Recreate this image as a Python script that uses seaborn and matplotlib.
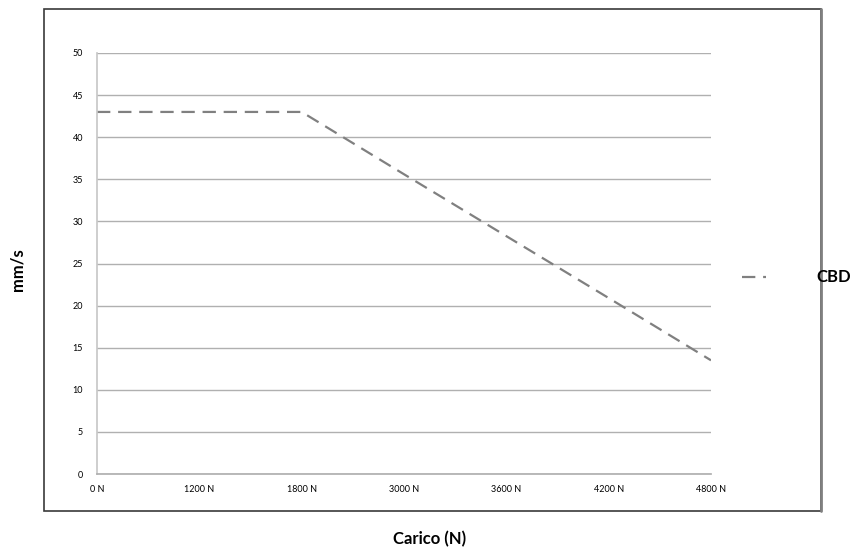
import matplotlib
matplotlib.use('Agg')
import matplotlib.pyplot as plt
import seaborn as sns
import pandas as pd
from matplotlib.patches import Rectangle
from matplotlib.lines import Line2D

sns.set_theme(style='white')
plt.rcParams['font.family'] = ['Lato', 'DejaVu Sans']

# data
loads = ['0 N', '1200 N', '1800 N', '3000 N', '3600 N', '4200 N', '4800 N']
speed_cbd = [43, 43, 43, 35.6, 28.25, 20.9, 13.5]
y_ticks = [0, 5, 10, 15, 20, 25, 30, 35, 40, 45, 50]

df = pd.DataFrame({'pos': range(len(loads)), 'speed': speed_cbd, 'serie': 'CBD'})

fig = plt.figure(figsize=(8.54, 5.53), dpi=100)
W, H = 854, 553
ax = fig.add_axes([97 / W, (H - 474) / H, (711 - 97) / W, (474 - 53) / H])

# outer chart box
fig.patches.append(Rectangle((44 / W, (H - 511) / H), (821 - 44) / W, (511 - 9) / H,
                             transform=fig.transFigure, fill=False,
                             edgecolor='#3a3a3a', linewidth=1.2))
fig.add_artist(Line2D([821 / W, 821 / W], [(H - 511) / H, (H - 9) / H],
                      transform=fig.transFigure, color='#808080', linewidth=2))

sns.lineplot(data=df, x='pos', y='speed', ax=ax, color='#808080',
             linewidth=1.6, legend=False)
ax.lines[0].set_dashes([6, 3.5])

ax.set_xlim(0, len(loads) - 1)
ax.set_ylim(0, 50)
ax.set_xticks(range(len(loads)))
ax.set_xticklabels(loads)
ax.set_yticks(y_ticks)
ax.tick_params(axis='both', labelsize=6.5, length=0, pad=8, colors='#000000')
ax.tick_params(axis='y', pad=10)
ax.yaxis.grid(True, color='#b0b0b0', linewidth=1)
ax.xaxis.grid(False)
for s in ['top', 'right']:
    ax.spines[s].set_visible(False)
ax.spines['left'].set_color('#c8c8c8')
ax.spines['bottom'].set_color('#b0b0b0')
ax.set_xlabel('')
ax.set_ylabel('')

fig.text(18 / W, 1 - 270 / H, 'mm/s', rotation=90, ha='center', va='center',
         fontsize=12, fontweight='bold', color='black')
fig.text(430 / W, 1 - 539 / H, 'Carico (N)', ha='center', va='center',
         fontsize=12, fontweight='bold', color='black')

# legend
fig.add_artist(Line2D([742 / W, 766 / W], [1 - 277 / H, 1 - 277 / H],
                      transform=fig.transFigure, color='#808080',
                      linewidth=1.6, dashes=[6, 3.5]))
fig.text(816 / W, 1 - 277 / H, 'CBD', ha='left', va='center',
         fontsize=12, fontweight='bold', color='black')

fig.savefig('out.png', dpi=100)
